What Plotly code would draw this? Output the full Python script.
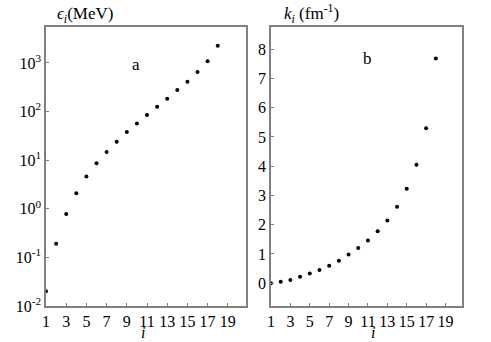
import plotly.graph_objects as go

# level index
i_vals = list(range(1, 19))
# single-particle energies (MeV), panel a
eps_vals = [0.020, 0.19, 0.78, 2.1, 4.6, 8.6, 14.8, 24, 38, 57, 85, 126,
            184, 277, 413, 650, 1090, 2270]
# wave numbers (fm^-1), panel b
k_vals = [0.0, 0.05, 0.11, 0.22, 0.33, 0.45, 0.60, 0.77, 0.98, 1.20, 1.46,
          1.78, 2.14, 2.61, 3.23, 4.05, 5.30, 7.68]

x_ticks = list(range(1, 20, 2))
log_ticks = [-2, -1, 0, 1, 2, 3]
log_labels = ["10<sup>-2</sup>", "10<sup>-1</sup>", "10<sup>0</sup>",
              "10<sup>1</sup>", "10<sup>2</sup>", "10<sup>3</sup>"]
k_ticks = list(range(0, 9))

W, H = 491, 342
ML, MR, MT, MB = 46, 29, 27, 36
PW, PH = W - ML - MR, H - MT - MB

font_name = "Liberation Serif, Times New Roman, DejaVu Serif, serif"
frame_col = "#808080"


def px(x, y):
    # pixel position in the picture -> paper coordinates of the plot area
    return (x - ML) / PW, 1 - (y - MT) / PH


fig = go.Figure()
fig.add_trace(go.Scatter(x=i_vals, y=eps_vals, mode="markers",
                         marker=dict(size=4, color="black"),
                         xaxis="x", yaxis="y", showlegend=False))
fig.add_trace(go.Scatter(x=i_vals, y=k_vals, mode="markers",
                         marker=dict(size=4, color="black"),
                         xaxis="x2", yaxis="y2", showlegend=False))

ax_common = dict(showgrid=False, zeroline=False, showline=True, mirror=True,
                 linecolor=frame_col, linewidth=1.5, ticks="inside",
                 ticklen=3, tickcolor=frame_col, automargin=False,
                 tickfont=dict(family=font_name, size=16, color="black"))

fig.update_layout(
    width=W, height=H,
    margin=dict(l=ML, r=MR, t=MT, b=MB, autoexpand=False),
    paper_bgcolor="white", plot_bgcolor="white",
    font=dict(family=font_name),
    xaxis=dict(domain=[0, 200 / PW], range=[1, 20.8],
               tickvals=x_ticks, anchor="y", **ax_common),
    yaxis=dict(domain=[0, 1], type="log", range=[-2, 3.74],
               tickvals=[10.0 ** p for p in log_ticks], ticktext=log_labels,
               anchor="x", **ax_common),
    xaxis2=dict(domain=[225 / PW, 1], range=[1, 20.7],
                tickvals=x_ticks, anchor="y2", **ax_common),
    yaxis2=dict(domain=[0, 1], range=[-0.78, 8.76],
                tickvals=k_ticks, anchor="x2", **ax_common),
)


def label(x, y, text, xanchor="center", size=17):
    ax, ay = px(x, y)
    fig.add_annotation(x=ax, y=ay, xref="paper", yref="paper", text=text,
                       showarrow=False, xanchor=xanchor, yanchor="middle",
                       borderpad=0,
                       font=dict(family=font_name, size=size, color="black"))


label(56, 15, "<i>ϵ<sub>i</sub></i>(MeV)", "left")
label(283, 14, "<i>k<sub>i</sub></i> (fm<sup>-1</sup>)", "left")
label(143, 332, "<i>i</i>", size=16)
label(373, 332, "<i>i</i>", size=16)
label(136, 65, "a")
label(367, 59, "b")

# page body has a default 8px margin, drop it so the figure sits at 0,0
fig.write_html("out.html", config={"displayModeBar": False},
               post_script="document.body.style.margin='0px';")
